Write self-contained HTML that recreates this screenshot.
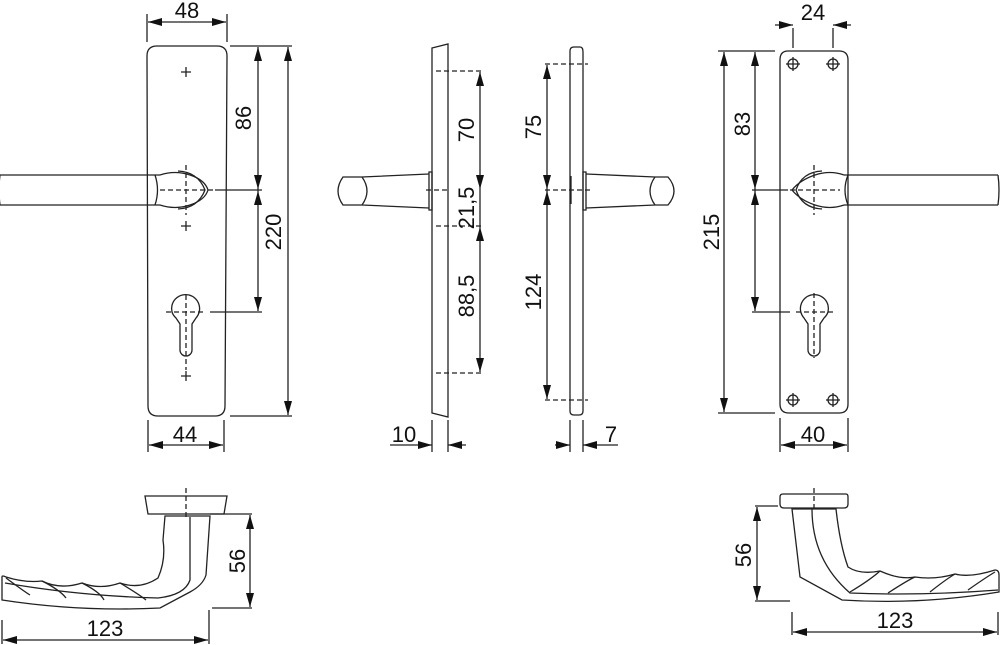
<!DOCTYPE html>
<html><head><meta charset="utf-8"><style>
html,body{margin:0;padding:0;background:#fff;}
svg{display:block;}
text{font-family:"Liberation Sans",sans-serif;font-size:22px;fill:#111;}
</style></head><body>
<svg width="1000" height="645" viewBox="0 0 1000 645" xmlns="http://www.w3.org/2000/svg">
<g fill="none" stroke="#222" stroke-width="1.3">
<!-- LEFT PLATE -->
<path d="M157,46 H217 Q227,46 227,56 L225,406 Q225,416 215,416 H158 Q148,416 148,406 L147,56 Q147,46 157,46 Z"/>
<path d="M181,72h10M186,67v10M181,226h10M186,221v10M181,376h10M186,371v10"/>
<path d="M0,175 H160 M0,205 H160 M0,175 Q-2,190 0,205 M155,175 Q160,190 155,205"/>
<path d="M160,175 Q175,170 190,175 Q205,180 208,190 Q205,200 190,205 Q175,210 160,205"/>
<path d="M178,171 Q198,172 205,190 Q198,208 178,209" />
<path d="M172,312 A14,14 0 1 1 196,318 L192,324 V350 A6,6 0 0 1 180,350 V324 L176,318 A14,14 0 0 1 172,312 Z"/>
<g stroke-dasharray="5,3"><path d="M160,190 H215 M186,165 V215 M166,312 H206 M186,295 V370"/></g>
<path d="M147,42 V14 M227,42 V14 M230,46 H292 M230,416 H292 M215,190 H262 M210,312 H262 M148,420 V452 M224,420 V452"/>
<path d="M148,22 H226 M258,47 V311 M288,47 V415 M149,445 H223"/>

<!-- SIDE VIEW 1 -->
<path d="M432,48 L448,44 V417 L432,413 Z"/>
<path d="M429,172 H432 V210 H429 Z"/>
<path d="M429,174 L362,177 M429,208 L362,205 M362,177 Q372,191 362,205 M362,177 H343 Q333,191 343,205 H362"/>
<g stroke-dasharray="5,3"><path d="M436,71 H484 M426,190 H450 M436,226 H484 M436,373 H484"/></g>
<path d="M480,72 V372"/>
<path d="M432,420 V452 M448,420 V452 M390,445 H432 M448,445 H466"/>

<!-- SIDE VIEW 2 -->
<path d="M574,47 H580 Q583,47 583,52 V411 Q583,415 579,415 H574 Q570,415 570,411 V51 Q570,47 574,47 Z"/>
<path d="M583,172 H586 V210 H583 Z"/>
<path d="M586,174 L655,177 M586,208 L655,205 M655,177 H668 Q680,191 668,205 H655 Q645,191 655,177"/>
<path d="M571,176 V204"/>
<g stroke-dasharray="5,3"><path d="M545,64 H588 M545,190 H590 M545,400 H588"/></g>
<path d="M547,65 V399"/>
<path d="M570,420 V452 M583,420 V452 M555,445 H570 M583,445 H618"/>

<!-- RIGHT PLATE -->
<path d="M788,51 H839 Q848,51 848,60 V404 Q848,413 839,413 H789 Q780,413 780,404 V60 Q780,51 788,51 Z"/>
<g><circle cx="793" cy="64" r="5"/><circle cx="833" cy="64" r="5"/><circle cx="793" cy="400" r="5"/><circle cx="833" cy="400" r="5"/>
<path d="M786,64h14M793,57v14M826,64h14M833,57v14M786,400h14M793,393v14M826,400h14M833,393v14"/></g>
<path d="M844,175 H998 M844,205 H998 M998,175 Q1000,190 998,205 M848,175 Q842,190 848,205"/>
<path d="M844,175 Q830,170 815,175 Q800,180 792,190 Q800,200 815,205 Q830,210 844,205"/>
<path d="M822,171 Q802,172 796,190 Q802,208 822,209"/>
<path d="M828,312 A14,14 0 1 0 804,318 L808,324 V350 A6,6 0 0 0 820,350 V324 L824,318 A14,14 0 0 0 828,312 Z"/>
<g stroke-dasharray="5,3"><path d="M790,190 H840 M814,165 V215 M796,312 H834 M814,293 V358"/></g>
<path d="M793,48 V28 M833,48 V28 M775,25 H793 M833,25 H851 M718,51 H775 M718,413 H775 M752,190 H788 M752,312 H790 M780,418 V452 M848,418 V452"/>
<path d="M755,52 V311 M724,52 V412 M781,445 H847"/>

<!-- BOTTOM LEFT LEVER -->
<path d="M145,496 H227 L224,514 H148 Z"/>
<path d="M165,516 H210 L206,575 Q203,585 190,592 L160,608 Q80,612 2,600 V577 Q2,575 6,577 Q25,583 42,581 Q60,590 82,583 Q100,590 120,583 Q140,590 158,578 Q166,560 163,540 Z"/>
<path d="M5,583 Q80,596 158,598 M190,517 V580 Q185,595 158,598"/>
<path d="M6,578 Q25,592 30,595 M42,581 Q60,590 66,598 M82,583 Q100,592 104,600 M120,583 Q140,595 146,600"/>
<path d="M210,514 H252 M212,608 H252 M2,620 V644 M209,610 V644"/>
<path d="M250,515 V607 M3,640 H208"/>
<path stroke-dasharray="5,3" d="M186,488 V520"/>

<!-- BOTTOM RIGHT LEVER -->
<path d="M783,494 H846 Q848,494 848,497 V504 Q848,508 844,508 H784 Q780,508 780,504 V497 Q780,494 783,494 Z"/>
<path d="M792,509 H836 Q840,545 848,567 Q860,575 880,571 Q900,580 915,577 Q935,580 955,574 Q970,578 995,570 Q999,570 999,575 V592 Q920,605 842,600 L800,577 Z"/>
<path d="M812,509 Q812,560 850,593 Q920,596 998,590"/>
<path d="M850,592 Q870,580 880,571 M888,593 Q908,580 915,577 M930,592 Q945,580 955,574 M968,590 Q985,578 995,572"/>
<path stroke-dasharray="5,3" d="M814,488 V512"/>
<path d="M755,506 H778 M755,601 H790 M792,612 V635 M998,612 V635"/>
<path d="M757,507 V600 M793,632 H997"/>
</g>

<!-- ARROWHEADS -->
<g fill="#111" stroke="none">
<!-- left pointing (tip x,y): x,y x+14,y-4 x+14,y+4 -->
<polygon points="148,22 162,18 162,26"/>
<polygon points="149,445 163,441 163,449"/>
<polygon points="448,445 462,441 462,449"/>
<polygon points="583,445 597,441 597,449"/>
<polygon points="833,25 847,21 847,29"/>
<polygon points="781,445 795,441 795,449"/>
<polygon points="3,640 17,636 17,644"/>
<polygon points="793,632 807,628 807,636"/>
<!-- right pointing -->
<polygon points="226,22 212,18 212,26"/>
<polygon points="223,445 209,441 209,449"/>
<polygon points="432,445 418,441 418,449"/>
<polygon points="570,445 556,441 556,449"/>
<polygon points="793,25 779,21 779,29"/>
<polygon points="847,445 833,441 833,449"/>
<polygon points="208,640 194,636 194,644"/>
<polygon points="997,632 983,628 983,636"/>
<!-- up pointing: x,y x-4,y+14 x+4,y+14 -->
<polygon points="258,47 254,61 262,61"/>
<polygon points="258,191 254,205 262,205"/>
<polygon points="288,47 284,61 292,61"/>
<polygon points="480,72 476,86 484,86"/>
<polygon points="480,227 476,241 484,241"/>
<polygon points="547,65 543,79 551,79"/>
<polygon points="547,191 543,205 551,205"/>
<polygon points="755,52 751,66 759,66"/>
<polygon points="755,191 751,205 759,205"/>
<polygon points="724,52 720,66 728,66"/>
<polygon points="250,515 246,529 254,529"/>
<polygon points="757,507 753,521 761,521"/>
<!-- down pointing -->
<polygon points="258,189 254,175 262,175"/>
<polygon points="258,311 254,297 262,297"/>
<polygon points="288,415 284,401 292,401"/>
<polygon points="480,189 476,175 484,175"/>
<polygon points="480,372 476,358 484,358"/>
<polygon points="547,189 543,175 551,175"/>
<polygon points="547,399 543,385 551,385"/>
<polygon points="755,189 751,175 759,175"/>
<polygon points="755,311 751,297 759,297"/>
<polygon points="724,412 720,398 728,398"/>
<polygon points="250,607 246,593 254,593"/>
<polygon points="757,600 753,586 761,586"/>
</g>

<text x="187" y="18" text-anchor="middle">48</text>
<text x="185" y="442" text-anchor="middle">44</text>
<text transform="translate(251,118) rotate(-90)" text-anchor="middle">86</text>
<text transform="translate(281,232) rotate(-90)" text-anchor="middle">220</text>
<text transform="translate(474,130) rotate(-90)" text-anchor="middle">70</text>
<text transform="translate(474,208) rotate(-90)" text-anchor="middle">21,5</text>
<text transform="translate(474,296) rotate(-90)" text-anchor="middle">88,5</text>
<text x="404" y="442" text-anchor="middle">10</text>
<text transform="translate(541,127) rotate(-90)" text-anchor="middle">75</text>
<text transform="translate(541,292) rotate(-90)" text-anchor="middle">124</text>
<text x="611" y="442" text-anchor="middle">7</text>
<text x="813" y="20" text-anchor="middle">24</text>
<text x="813" y="442" text-anchor="middle">40</text>
<text transform="translate(750,124) rotate(-90)" text-anchor="middle">83</text>
<text transform="translate(719,232) rotate(-90)" text-anchor="middle">215</text>
<text transform="translate(245,561) rotate(-90)" text-anchor="middle">56</text>
<text x="105" y="636" text-anchor="middle">123</text>
<text transform="translate(751,555) rotate(-90)" text-anchor="middle">56</text>
<text x="895" y="628" text-anchor="middle">123</text>
</svg>
</body></html>
